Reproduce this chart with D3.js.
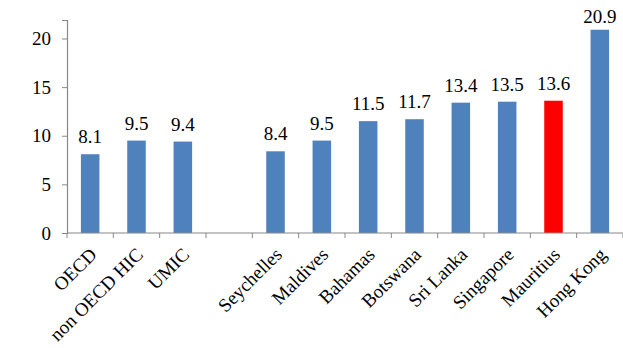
<!DOCTYPE html>
<html><head><meta charset="utf-8">
<script src="https://cdn.jsdelivr.net/npm/d3@7"></script>
<style>body{margin:0;background:#fff}svg{display:block}svg text{font-family:"Liberation Serif",serif;fill:#000}</style>
</head><body>
<svg id="c" width="623" height="348"></svg>
<script>
const categories = ["OECD","non OECD HIC","UMIC","","Seychelles","Maldives","Bahamas","Botswana","Sri Lanka","Singapore","Mauritius","Hong Kong"];
const values = [8.1,9.5,9.4,null,8.4,9.5,11.5,11.7,13.4,13.5,13.6,20.9];
const highlight = ["Mauritius"];
const yTicks = [0,5,10,15,20];

const svg = d3.select("#c");
const fs = 19;
const x = d3.scaleBand().domain(categories).range([67,623]).paddingInner(0.6).paddingOuter(0.3);
const y = d3.scaleLinear().domain([0,21.9]).range([233,20]);

// y axis
const ya = svg.append("g").attr("transform","translate(67,0)")
  .call(d3.axisLeft(y).tickValues(yTicks).tickSize(5).tickPadding(11));
ya.attr("font-family",null).attr("font-size",null);
ya.select(".domain").attr("stroke","#888").attr("stroke-width",1.2);
ya.selectAll(".tick line").attr("stroke","#888");
ya.selectAll(".tick text").attr("font-size",fs);

const data = categories.map((c,i)=>({c,v:values[i]})).filter(d=>d.v!=null);
// bars
svg.selectAll("rect.bar").data(data)
  .enter().append("rect").attr("class","bar")
  .attr("x",d=>x(d.c)).attr("width",x.bandwidth())
  .attr("y",d=>y(d.v)).attr("height",d=>y(0)-y(d.v))
  .attr("fill",d=>highlight.includes(d.c)?"#FF0000":"#4F81BD");

// value labels
svg.selectAll("text.val").data(data)
  .enter().append("text").attr("class","val")
  .attr("x",d=>x(d.c)+x.bandwidth()/2).attr("y",d=>Math.max(y(d.v)-11,23))
  .attr("text-anchor","middle").attr("font-size",fs)
  .text(d=>d.v.toFixed(1));

// x axis
const xs = d3.scalePoint().domain(d3.range(categories.length+1)).range([67,623]);
const xa = svg.append("g").attr("transform","translate(0,233)");
xa.append("line").attr("x1",67).attr("x2",623).attr("stroke","#888").attr("stroke-width",1.2);
xa.selectAll("line.tk").data(d3.range(categories.length+1)).enter().append("line").attr("class","tk")
  .attr("x1",d=>xs(d)).attr("x2",d=>xs(d)).attr("y1",0).attr("y2",5).attr("stroke","#888");
xa.selectAll("text.cat").data(categories).enter().append("text").attr("class","cat")
  .attr("transform",d=>`translate(${x(d)+x.bandwidth()/2+3},${18}) rotate(-45)`)
  .attr("text-anchor","end").attr("dy","0.35em")
  .attr("font-size",19).text(d=>d);
</script>
</body></html>
